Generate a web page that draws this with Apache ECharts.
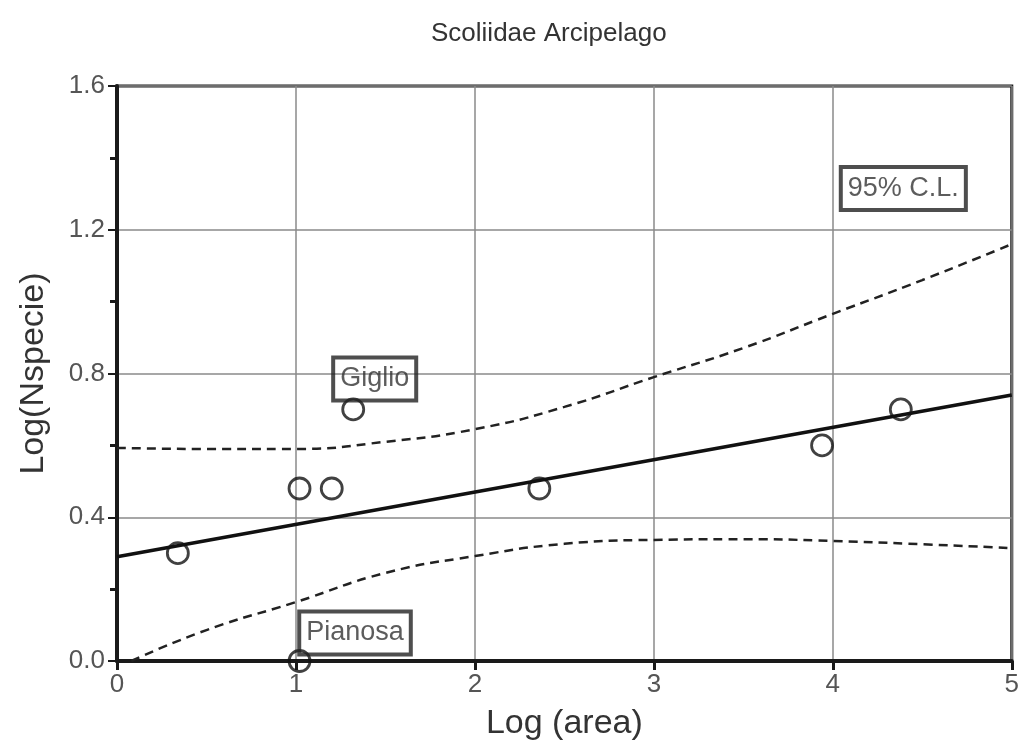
<!DOCTYPE html>
<html>
<head>
<meta charset="utf-8">
<script src="https://cdn.jsdelivr.net/npm/echarts@6/dist/echarts.min.js"></script>
<style>
html,body{margin:0;padding:0;background:#fff;}
#c{width:1022px;height:756px;}
</style>
</head>
<body>
<div id="c"></div>
<script>
// Observed islands: [log(area), log(Nspecie)]
const islands = [
  [0.34, 0.30],
  [1.02, 0.48],
  [1.20, 0.48],
  [1.32, 0.70],
  [2.36, 0.48],
  [3.94, 0.60],
  [4.38, 0.70],
  [1.02, 0.00]
];
// Regression line endpoints
const fitLine = [[0, 0.29], [5, 0.74]];
// 95% confidence limits
const upperCL = [[0, 0.593], [0.5, 0.59], [1, 0.59], [1.5, 0.61], [2, 0.645], [2.5, 0.707], [3, 0.79], [3.5, 0.871], [4, 0.966], [4.5, 1.06], [5, 1.16]];
const lowerCL = [[0.08, 0.0], [0.5, 0.086], [1, 0.164], [1.5, 0.245], [2, 0.292], [2.5, 0.326], [3, 0.337], [3.5, 0.339], [4, 0.334], [4.5, 0.325], [5, 0.314]];
// Boxed annotations
const boxLabels = [
  {text: 'Giglio', pos: [1.44, 0.785]},
  {text: 'Pianosa', pos: [1.33, 0.078]},
  {text: '95% C.L.', pos: [4.394, 1.315]}
];
const xTicks = [0, 1, 2, 3, 4, 5];
const yTicks = [0.0, 0.4, 0.8, 1.2, 1.6];

const chart = echarts.init(document.getElementById('c'));
const font = 'Liberation Sans, Arial, Helvetica, sans-serif';
chart.setOption({
  backgroundColor: '#fff',
  animation: false,
  title: {
    text: 'Scoliidae Arcipelago',
    left: 426, top: 16,
    textStyle: {fontFamily: font, fontSize: 26, fontWeight: 'normal', color: '#333'}
  },
  grid: {left: 117, right: 5, top: 86, bottom: 95, show: true, borderColor: '#1a1a1a', borderWidth: 3, backgroundColor: 'transparent'},
  xAxis: {
    type: 'value', min: xTicks[0], max: xTicks[xTicks.length - 1], interval: 1,
    name: 'Log (area)', nameLocation: 'middle', nameGap: 46,
    nameTextStyle: {fontFamily: font, fontSize: 34, color: '#333'},
    axisLine: {show: true, onZero: false, lineStyle: {color: '#1a1a1a', width: 4}},
    axisTick: {show: true, length: 9, lineStyle: {color: '#1a1a1a', width: 3}},
    axisLabel: {fontFamily: font, fontSize: 26, color: '#555', margin: 11},
    splitLine: {show: true, lineStyle: {color: '#8a8a8a', width: 1.5}}
  },
  yAxis: {
    type: 'value', min: yTicks[0], max: yTicks[yTicks.length - 1], interval: 0.4,
    name: 'Log(Nspecie)', nameLocation: 'middle', nameGap: 66,
    nameTextStyle: {fontFamily: font, fontSize: 34, color: '#333'},
    axisLine: {show: true, onZero: false, lineStyle: {color: '#1a1a1a', width: 4}},
    axisTick: {show: true, length: 9, lineStyle: {color: '#1a1a1a', width: 2}},
    minorTick: {show: true, splitNumber: 2, length: 7, lineStyle: {color: '#1a1a1a', width: 3}},
    axisLabel: {fontFamily: font, fontSize: 26, color: '#555', margin: 12, formatter: v => v.toFixed(1)},
    splitLine: {show: true, lineStyle: {color: '#8a8a8a', width: 1.5}}
  },
  series: [
    {
      type: 'line', data: upperCL, smooth: true, symbol: 'none', clip: true,
      lineStyle: {color: '#222', width: 2.5, type: [9, 6]}
    },
    {
      type: 'line', data: lowerCL, smooth: true, symbol: 'none', clip: true,
      lineStyle: {color: '#222', width: 2.5, type: [9, 6]}
    },
    {
      type: 'line', data: fitLine, symbol: 'none',
      lineStyle: {color: '#111', width: 3.5}
    },
    {
      type: 'scatter', data: islands, symbol: 'circle', symbolSize: 21, clip: false,
      itemStyle: {color: 'rgba(255,255,255,0)', borderColor: '#111', borderWidth: 2.8}
    },
    {
      type: 'scatter', symbolSize: 0, clip: false, z: 5,
      data: boxLabels.map(b => ({value: b.pos, name: b.text})),
      label: {
        show: true, position: 'inside', formatter: p => p.name,
        fontFamily: font, fontSize: 27, color: '#333',
        textBorderWidth: 0, textBorderColor: 'transparent',
        backgroundColor: 'transparent', borderColor: '#222', borderWidth: 2,
        padding: [9, 7, 7, 7]
      }
    }
  ]
});
</script>
</body>
</html>
